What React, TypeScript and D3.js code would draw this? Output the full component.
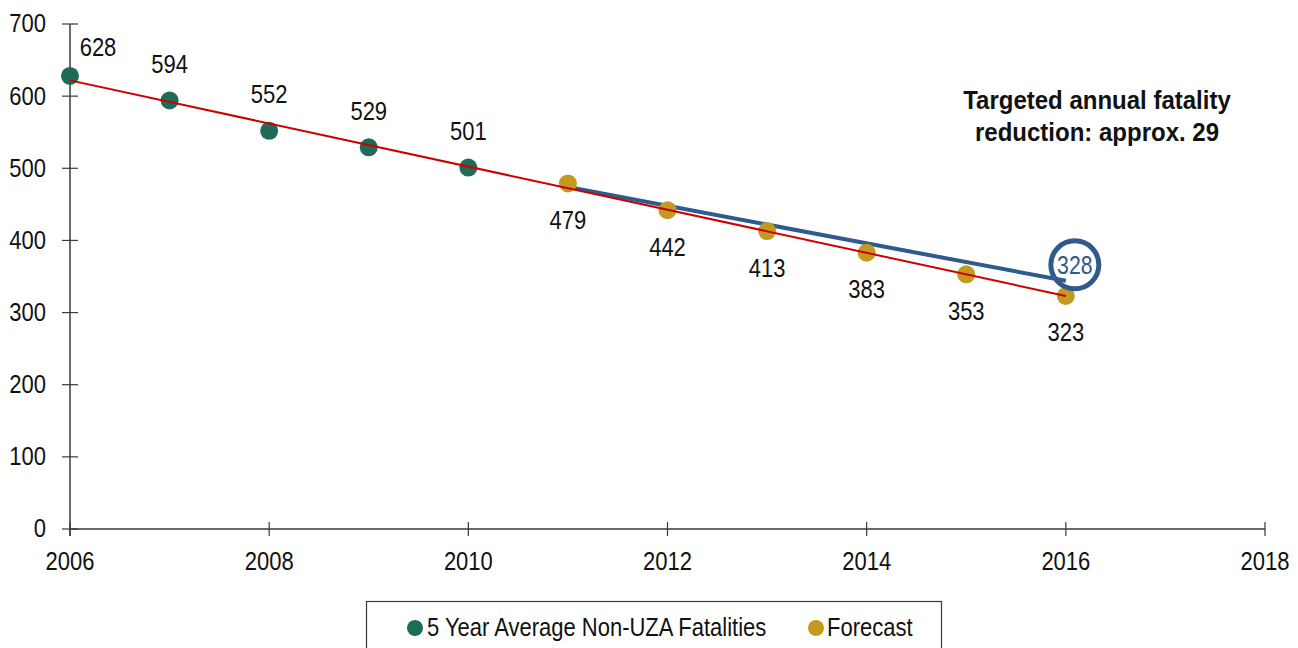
import React from "react";
import * as d3 from "d3";

// Five-year average fatalities (actual) and forecast
const actualYears = [2006, 2007, 2008, 2009, 2010];
const actualValues = [628, 594, 552, 529, 501];
const forecastYears = [2011, 2012, 2013, 2014, 2015, 2016];
const forecastValues = [479, 442, 413, 383, 353, 323];

// Target path from 2011 to 2016
const targetYears = [2011, 2016];
const targetValues = [474, 344];
const targetLabel = "328";

const xTicks = [2006, 2008, 2010, 2012, 2014, 2016, 2018];
const yTicks = [0, 100, 200, 300, 400, 500, 600, 700];

const annotationLines = ["Targeted annual fatality", "reduction: approx. 29"];
const legendLabels = ["5 Year Average Non-UZA Fatalities", "Forecast"];

const W = 1298;
const H = 648;
const FONT = "'Liberation Sans', Arial, sans-serif";

const GREEN = "#1f6b5a";
const GOLD = "#c4991f";
const RED = "#cc0000";
const BLUE = "#2f5a8c";
const AXIS = "#3a3a3a";

type TProps = {
  x: number;
  y: number;
  anchor?: "start" | "middle" | "end";
  size?: number;
  weight?: string;
  fill?: string;
  squeeze?: number;
  children: React.ReactNode;
};

// Condensed text: horizontally squeezed around its anchor point
function T({ x, y, anchor = "middle", size = 25, weight = "normal", fill = "#111", squeeze = 0.88, children }: TProps) {
  return (
    <text
      transform={`translate(${x},${y}) scale(${squeeze},1)`}
      textAnchor={anchor}
      dominantBaseline="central"
      fontSize={size}
      fontWeight={weight}
      fill={fill}
    >
      {children}
    </text>
  );
}

export default function App() {
  const x = d3.scaleLinear().domain([2006, 2018]).range([70, 1265]);
  const y = d3.scaleLinear().domain([0, 700]).range([529, 24]);

  const allYears = [...actualYears, ...forecastYears];
  const allValues = [...actualValues, ...forecastValues];

  // Least-squares trend over every point
  const mx = d3.mean(allYears) as number;
  const my = d3.mean(allValues) as number;
  const sxy = d3.sum(allYears, (yr, i) => (yr - mx) * (allValues[i] - my));
  const sxx = d3.sum(allYears, (yr) => (yr - mx) * (yr - mx));
  const slope = sxy / sxx;
  const trend = (yr: number) => my + slope * (yr - mx);
  const x0 = allYears[0];
  const x1 = allYears[allYears.length - 1];

  const line = d3
    .line<[number, number]>()
    .x((d) => x(d[0]))
    .y((d) => y(d[1]));

  const trendPath = line([
    [x0, trend(x0)],
    [x1, trend(x1)],
  ]);
  const targetPath = line(targetYears.map((yr, i) => [yr, targetValues[i]] as [number, number]));

  const endX = x(targetYears[1]);
  const endY = y(targetValues[1]);

  return (
    <div style={{ position: "fixed", left: 0, top: 0, width: W, height: H, background: "#fff" }}>
      <svg width={W} height={H} style={{ display: "block" }} fontFamily={FONT}>
        {/* axes */}
        <line x1={x(2006)} x2={x(2018)} y1={y(0)} y2={y(0)} stroke={AXIS} strokeWidth={1.5} />
        <line x1={x(2006)} x2={x(2006)} y1={y(0) + 7} y2={y(700)} stroke={AXIS} strokeWidth={1.5} />
        {yTicks.map((t) => (
          <g key={"y" + t}>
            <line x1={x(2006) - 8} x2={x(2006) + 8} y1={y(t)} y2={y(t)} stroke={AXIS} strokeWidth={1.2} />
            <T x={46} y={y(t)} anchor="end">
              {t}
            </T>
          </g>
        ))}
        {xTicks.map((t) => (
          <g key={"x" + t}>
            <line x1={x(t)} x2={x(t)} y1={y(0) - 7} y2={y(0) + 7} stroke={AXIS} strokeWidth={1.2} />
            <T x={x(t)} y={y(0) + 33}>
              {t}
            </T>
          </g>
        ))}

        {/* target line */}
        <path d={targetPath || ""} stroke={BLUE} strokeWidth={4} fill="none" />

        {/* markers */}
        {actualYears.map((yr, i) => (
          <circle key={"a" + yr} cx={x(yr)} cy={y(actualValues[i])} r={9} fill={GREEN} />
        ))}
        {forecastYears.map((yr, i) => (
          <circle key={"f" + yr} cx={x(yr)} cy={y(forecastValues[i])} r={9} fill={GOLD} />
        ))}

        {/* trend line */}
        <path d={trendPath || ""} stroke={RED} strokeWidth={2} fill="none" />

        {/* data labels */}
        {actualYears.map((yr, i) => (
          <T
            key={"al" + yr}
            x={x(yr) + (i === 0 ? 28 : 0)}
            y={y(actualValues[i]) - (i === 0 ? 28 : 36)}
          >
            {actualValues[i]}
          </T>
        ))}
        {forecastYears.map((yr, i) => (
          <T key={"fl" + yr} x={x(yr)} y={y(forecastValues[i]) + 37}>
            {forecastValues[i]}
          </T>
        ))}

        {/* target callout */}
        <circle cx={endX + 9} cy={endY - 16} r={24} fill="none" stroke={BLUE} strokeWidth={5} />
        <T x={endX + 9} y={endY - 15} size={25} fill={BLUE} squeeze={0.85}>
          {targetLabel}
        </T>

        {/* annotation */}
        {annotationLines.map((s, i) => (
          <T key={"an" + i} x={1097} y={100 + i * 32} weight="bold" squeeze={0.96}>
            {s}
          </T>
        ))}

        {/* legend */}
        <rect x={366.5} y={601.5} width={575} height={60} fill="#fff" stroke={AXIS} strokeWidth={1.2} />
        <circle cx={415} cy={628} r={8} fill={GREEN} />
        <T x={427} y={628} anchor="start">
          {legendLabels[0]}
        </T>
        <circle cx={816} cy={628} r={8} fill={GOLD} />
        <T x={827} y={628} anchor="start">
          {legendLabels[1]}
        </T>
      </svg>
    </div>
  );
}
